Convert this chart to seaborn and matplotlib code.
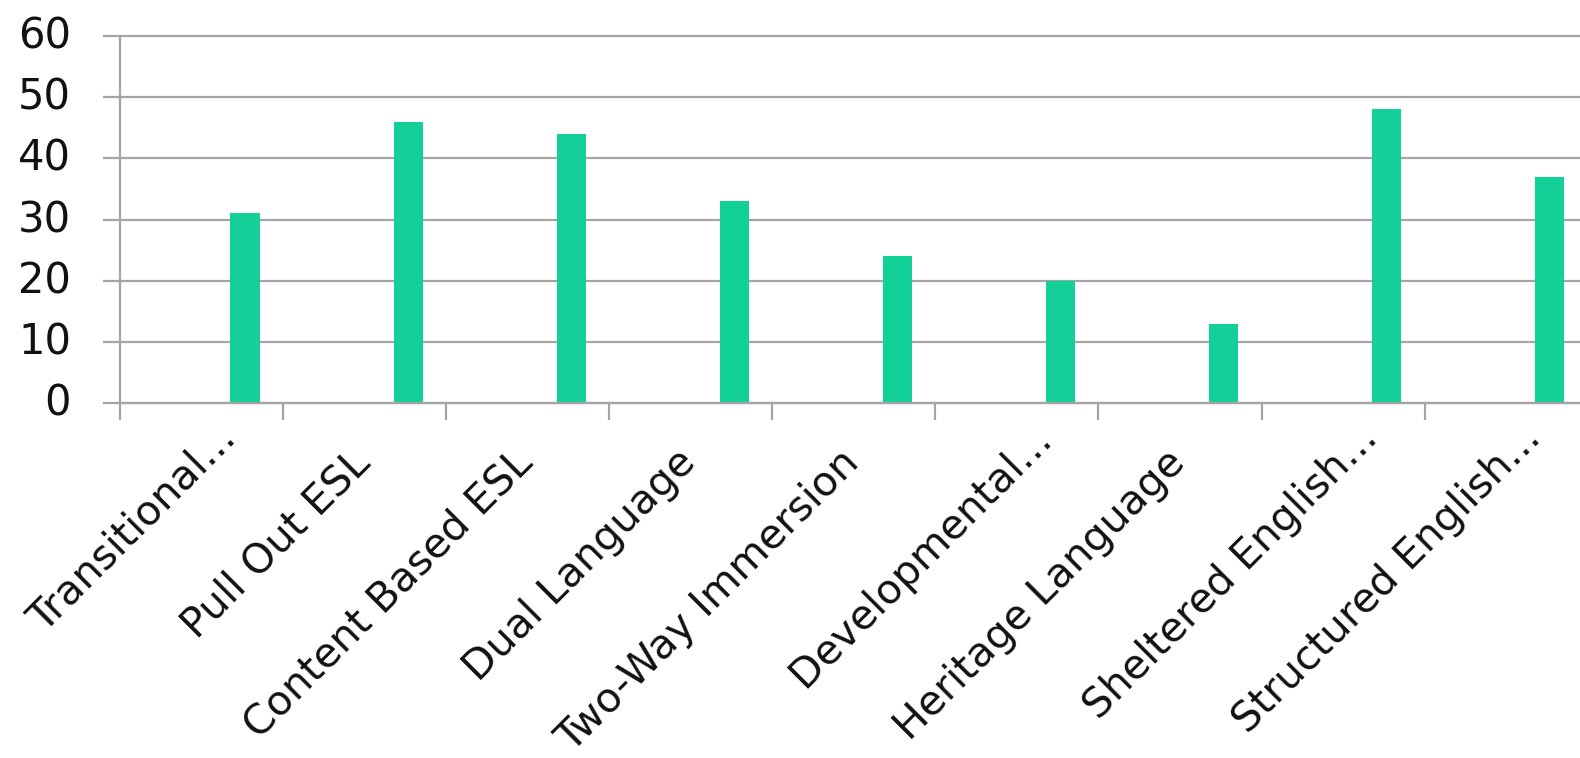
import matplotlib
matplotlib.use("Agg")
import matplotlib.pyplot as plt
import matplotlib.transforms as mtransforms
import pandas as pd
import seaborn as sns

# Program types and the number of responses for each
programs = ["Transitional...", "Pull Out ESL", "Content Based ESL", "Dual Language",
            "Two-Way Immersion", "Developmental...", "Heritage Language",
            "Sheltered English...", "Structured English..."]
counts = [31, 46, 44, 33, 24, 20, 13, 48, 37]
series_order = ["Series 1", "Series 2", "Series 3", "Series 4"]
plotted_series = "Series 4"
y_ticks = [0, 10, 20, 30, 40, 50, 60]

sns.set_theme(style="white")
plt.rcParams["font.family"] = ["DejaVu Sans"]

BAR = "#13CF98"
GRID = "#a4a4a4"

df = pd.DataFrame({"program": programs, "count": counts, "series": plotted_series})

fig = plt.figure(figsize=(15.8, 7.58), dpi=100)
ax = fig.add_axes([0.0759, 0.4683, 0.929, 0.4842])

sns.barplot(data=df, x="program", y="count", hue="series", hue_order=series_order,
            order=programs, palette=[BAR] * len(series_order), width=0.712,
            dodge=True, errorbar=None, saturation=1, legend=False,
            edgecolor="none", linewidth=0, ax=ax)

ax.set_xlim(-0.5, len(programs) - 0.5)
ax.set_ylim(0, 60)
ax.set_xlabel("")
ax.set_ylabel("")

# Horizontal gridlines and gray axis lines
ax.set_yticks(y_ticks)
ax.yaxis.grid(True, color=GRID, linewidth=1.6)
ax.xaxis.grid(False)
ax.set_axisbelow(True)
for line in ax.get_ygridlines():
    line.set_clip_on(False)
for side in ("top", "right"):
    ax.spines[side].set_visible(False)
for side in ("left", "bottom"):
    ax.spines[side].set_color(GRID)
    ax.spines[side].set_linewidth(1.6)

ax.tick_params(axis="y", which="major", length=12.2, width=1.6, color=GRID,
               labelsize=30, pad=23, labelcolor="#111111", left=True)
for lab in ax.get_yticklabels():
    lab.set_transform(lab.get_transform() +
                      mtransforms.ScaledTranslation(0, 0.04, fig.dpi_scale_trans))

# Category boundaries carry the tick marks; labels sit at the category centres
ax.set_xticks([i - 0.5 for i in range(len(programs) + 1)], minor=True)
ax.set_xticks(range(len(programs)))
ax.set_xticklabels(programs, rotation=45, ha="right", va="baseline",
                   rotation_mode="anchor")
ax.tick_params(axis="x", which="major", length=0, pad=44, labelsize=29.5,
               labelcolor="#111111", bottom=True)
ax.tick_params(axis="x", which="minor", length=12.2, width=1.6, color=GRID,
               bottom=True)

for lab in ax.get_xticklabels():
    dx, dy = 7, 0
    if lab.get_text().endswith("..."):
        dx, dy = 36, 24
    lab.set_transform(lab.get_transform() +
                      mtransforms.ScaledTranslation(dx / 100, dy / 100, fig.dpi_scale_trans))

fig.savefig("out.png", dpi=100, facecolor="white")
